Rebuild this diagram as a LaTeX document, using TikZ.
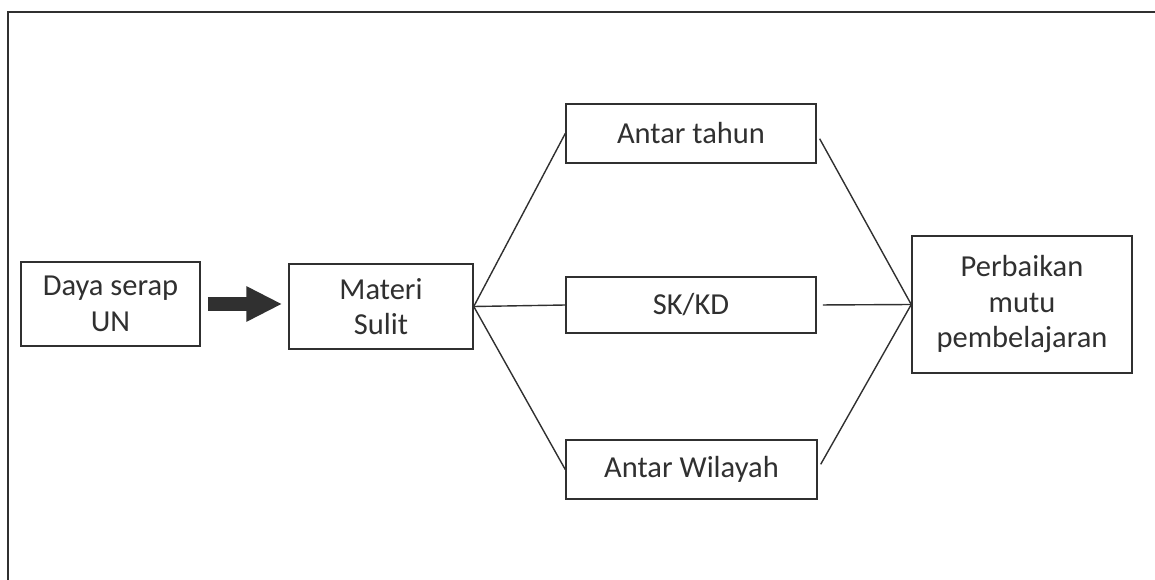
\documentclass[tikz,border=0pt]{standalone}
\usepackage{fontspec}
\setmainfont{Carlito}
\usetikzlibrary{arrows.meta}
\definecolor{ink}{HTML}{303030}
\tikzset{
  box/.style={draw=ink, line width=1.5pt, text=ink, align=center, inner sep=0pt,
    font=\fontsize{30.5}{35.5}\selectfont},
  link/.style={draw=ink, line width=1.4pt},
}
\begin{document}
\begin{tikzpicture}[x=1pt,y=-1pt]
\useasboundingbox (0,0) rectangle (1155,580);
% outer frame (only top and left sides are visible)
\draw[draw=ink, line width=1.7pt] (1155,12) -- (8,12) -- (8,580);

\node[box, minimum width=179pt, minimum height=84pt] (daya) at (110.5,304) {Daya serap\\UN};
\node[box, minimum width=184pt, minimum height=85pt] (materi) at (381,306.5) {Materi\\Sulit};
\node[box, minimum width=250pt, minimum height=59pt] (tahun) at (691,133.5) {Antar tahun};
\node[box, minimum width=250pt, minimum height=56pt] (skkd) at (691,305) {SK/KD};
\node[box, minimum width=251pt, minimum height=59pt] (wil) at (691.5,469.5) {Antar Wilayah};
\node[box, minimum width=220pt, minimum height=137pt] (perb) at (1022,304.5) {Perbaikan\\mutu\\pembelajaran};

% thick arrow
\draw[draw=ink, line width=14pt, -{Triangle[length=36pt,width=33pt]}, shorten <=7pt, shorten >=6pt]
  (daya.east) -- (materi.west |- daya.east);

% fan-out
\draw[link] (materi.east) -- (tahun.west);
\draw[link] (materi.east) -- (skkd.west);
\draw[link] (materi.east) -- (wil.west);
% fan-in
\draw[link, shorten <=6pt] (tahun.east) -- (perb.west);
\draw[link, shorten <=6pt] (skkd.east) -- (perb.west);
\draw[link, shorten <=6pt] (wil.east) -- (perb.west);
\end{tikzpicture}
\end{document}
